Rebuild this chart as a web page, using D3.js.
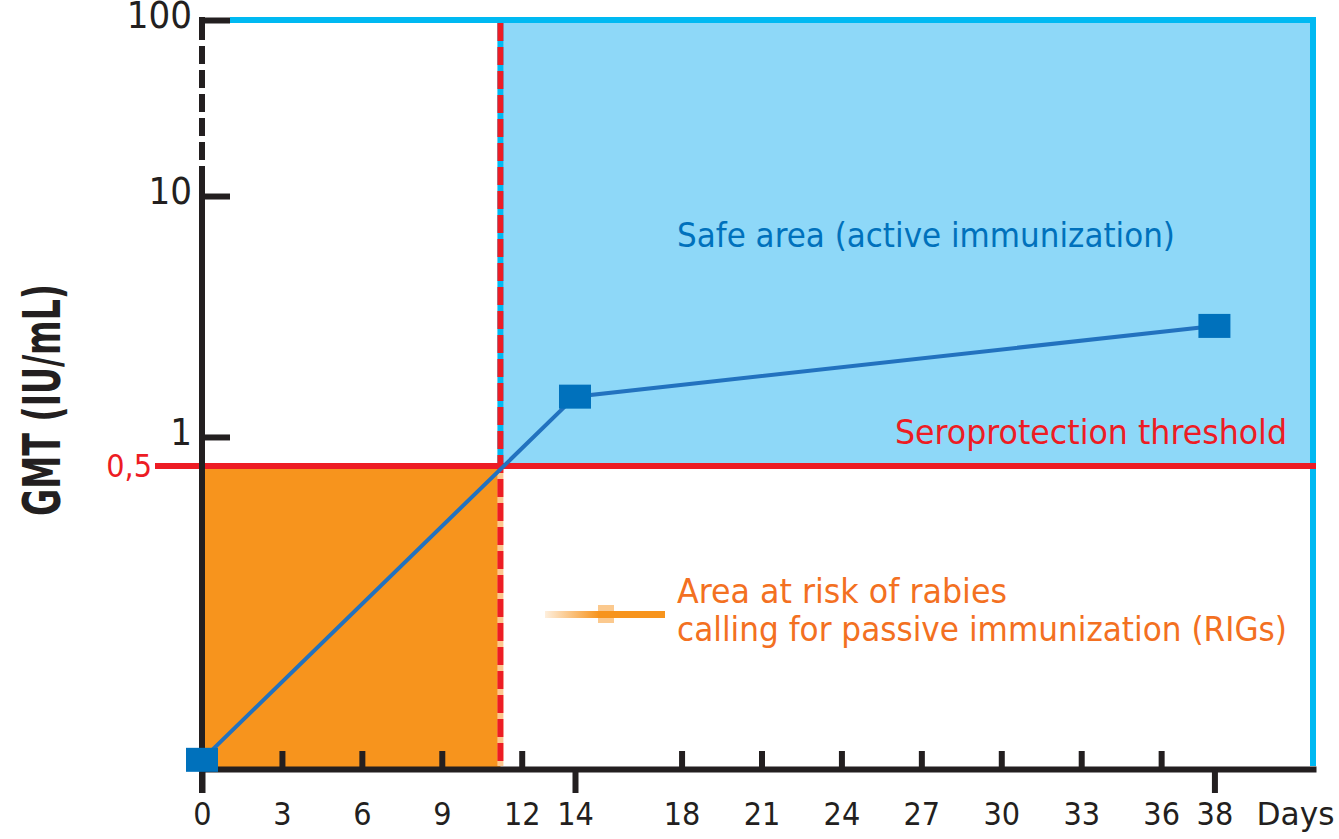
<!DOCTYPE html>
<html>
<head>
<meta charset="utf-8">
<script src="https://cdn.jsdelivr.net/npm/d3@7"></script>
<style>
  html, body { margin: 0; padding: 0; background: #fff; overflow: hidden; }
  svg { display: block; }
  text { font-family: "DejaVu Sans Condensed", "Liberation Sans Narrow", "Liberation Sans", sans-serif; }
</style>
</head>
<body>
<div id="myChart"></div>
<script>
// Data
const days = [0, 14, 38];
const gmt = [0.105, 1.47, 2.89];
const xTicks = [0, 3, 6, 9, 12, 14, 18, 21, 24, 27, 30, 33, 36, 38];
const xMajorTicks = [0, 14, 38];
const yTicks = [1, 10, 100];
const yBreaks = [0.1, 0.5, 1, 10, 100];
const threshold = 0.5;
const thresholdLabel = "0,5";
const thresholdDay = 11.2;
const lastDay = 41.7;
const xUnit = "Days";
const yTitle = "GMT (IU/mL)";
const safeText = "Safe area (active immunization)";
const seroText = "Seroprotection threshold";
const riskText = ["Area at risk of rabies", "calling for passive immunization (RIGs)"];

// Size of the SVG
const w = 1339;
const h = 839;

// Plot box
const margin = {top: 20, left: 202, bottom: 70, right: 26};
const innerWidth = w - margin.left - margin.right;
const innerHeight = h - margin.top - margin.bottom;

// Colours
const col = {
  axis: "#231f20", red: "#ed1c24", cyan: "#00b9f2", sky: "#8ed8f8",
  orange: "#f7941d", riskText: "#f37021", blue: "#0071bc", line: "#2272bf", peach: "#fcc890"
};

const svg = d3.select("#myChart")
  .append("svg")
    .attr("width", w)
    .attr("height", h)
    .attr("viewBox", [0, 0, w, h]);

// X scale (linear days)
const xScale = d3.scaleLinear()
  .domain([0, lastDay])
  .range([margin.left, margin.left + innerWidth]);

// Y scale: hand drawn log axis, so a piecewise log scale
// (share of the plot height for each break, bottom to top)
const yShares = [0, 0.4045, 0.4433, 0.765, 1];
const yScale = d3.scaleLog()
  .domain(yBreaks)
  .range(yShares.map(s => margin.top + innerHeight * (1 - s)));

const yMin = yBreaks[0];
const yMax = yBreaks[yBreaks.length - 1];

// Safe area (blue) and risk area (orange)
svg.append("rect")
  .attr("x", xScale(thresholdDay))
  .attr("y", yScale(yMax))
  .attr("width", xScale(lastDay) - xScale(thresholdDay))
  .attr("height", yScale(threshold) - yScale(yMax))
  .attr("fill", col.sky);

svg.append("rect")
  .attr("x", xScale(0))
  .attr("y", yScale(threshold))
  .attr("width", xScale(thresholdDay) - xScale(0))
  .attr("height", yScale(yMin) - yScale(threshold))
  .attr("fill", col.orange);

// Cyan frame top and right
svg.append("path")
  .attr("d", d3.line()([
    [xScale(0) + 28, yScale(yMax)],
    [xScale(lastDay), yScale(yMax)],
    [xScale(lastDay), yScale(yMin) - 3]
  ]))
  .attr("fill", "none")
  .attr("stroke", col.cyan)
  .attr("stroke-width", 6)
  .attr("stroke-linejoin", "miter");

// Vertical threshold line: coloured under-line then red dashes
svg.append("line")
  .attr("x1", xScale(thresholdDay)).attr("x2", xScale(thresholdDay))
  .attr("y1", yScale(yMax) - 3).attr("y2", yScale(threshold))
  .attr("stroke", col.cyan).attr("stroke-width", 6);
svg.append("line")
  .attr("x1", xScale(thresholdDay)).attr("x2", xScale(thresholdDay))
  .attr("y1", yScale(threshold)).attr("y2", yScale(yMin) - 3)
  .attr("stroke", col.peach).attr("stroke-width", 6);
svg.append("line")
  .attr("x1", xScale(thresholdDay)).attr("x2", xScale(thresholdDay))
  .attr("y1", yScale(yMax) - 3).attr("y2", yScale(yMin) - 3)
  .attr("stroke", col.red).attr("stroke-width", 6)
  .attr("stroke-dasharray", "18 6")
  .attr("stroke-dashoffset", -6);

// Horizontal threshold line
svg.append("line")
  .attr("x1", xScale(0) - 47).attr("x2", xScale(lastDay) + 3)
  .attr("y1", yScale(threshold)).attr("y2", yScale(threshold))
  .attr("stroke", col.red).attr("stroke-width", 6);

svg.append("text")
  .attr("x", xScale(0) - 50)
  .attr("y", yScale(threshold))
  .attr("dy", "0.35em")
  .attr("text-anchor", "end")
  .attr("fill", col.red)
  .style("font-size", "32px")
  .text(thresholdLabel);

// Y axis line: solid corner, dashed between 100 and 10, solid below
const yLine = [
  {y1: yScale(yMax) - 3, y2: yScale(yMax) + 20, dash: null},
  {y1: yScale(yMax) + 26, y2: yScale(10) - 19, dash: "18 6"},
  {y1: yScale(10) - 19, y2: yScale(yMin) + 24, dash: null}
];
svg.selectAll(".yline")
  .data(yLine)
  .enter()
  .append("line")
    .attr("class", "yline")
    .attr("x1", xScale(0)).attr("x2", xScale(0))
    .attr("y1", d => d.y1).attr("y2", d => d.y2)
    .attr("stroke", col.axis)
    .attr("stroke-width", 6)
    .attr("stroke-dasharray", d => d.dash);

// Y axis ticks and labels
const yAxis = d3.axisLeft(yScale)
  .tickValues(yTicks)
  .tickFormat(d3.format("d"))
  .tickSize(-28)
  .tickPadding(10);

const yG = svg.append("g")
  .attr("transform", `translate(${xScale(0)},0)`)
  .call(yAxis)
  .attr("font-family", null)
  .attr("font-size", 38);
yG.select(".domain").remove();
yG.selectAll(".tick line").attr("stroke", col.axis).attr("stroke-width", 6).attr("x1", 3);
yG.selectAll(".tick text")
  .attr("dy", "0.2em")
  .attr("fill", col.axis);

// X axis: domain + inner minor ticks
const minorTicks = xTicks.filter(d => !xMajorTicks.includes(d));
const xG = svg.append("g")
  .attr("transform", `translate(0,${yScale(yMin)})`)
  .call(d3.axisBottom(xScale).tickValues(minorTicks).tickSize(-18).tickSizeOuter(0).tickFormat(""));
xG.select(".domain").attr("stroke", col.axis).attr("stroke-width", 6).attr("stroke-linecap", "square");
xG.selectAll(".tick line").attr("stroke", col.axis).attr("stroke-width", 6);

// Major ticks go down
const xMajG = svg.append("g")
  .attr("transform", `translate(0,${yScale(yMin)})`)
  .call(d3.axisBottom(xScale).tickValues(xMajorTicks).tickSize(24).tickFormat(""));
xMajG.select(".domain").remove();
xMajG.selectAll(".tick line").attr("stroke", col.axis).attr("stroke-width", 6);

// Tick labels
const xLabG = svg.append("g")
  .attr("transform", `translate(0,${yScale(yMin)})`)
  .call(d3.axisBottom(xScale).tickValues(xTicks).tickSize(0).tickPadding(33))
  .attr("font-family", null)
  .attr("font-size", 32);
xLabG.select(".domain").remove();
xLabG.selectAll(".tick text")
  .attr("fill", col.axis);

svg.append("text")
  .attr("x", xScale(38) + 42)
  .attr("y", yScale(yMin) + 33)
  .attr("dy", "0.71em")
  .attr("fill", col.axis)
  .attr("textLength", 78)
  .attr("lengthAdjust", "spacingAndGlyphs")
  .style("font-size", "32px")
  .text(xUnit);

// Y axis title
svg.append("text")
  .attr("transform", `translate(60,${yScale(1) - 37}) rotate(-90)`)
  .attr("text-anchor", "middle")
  .attr("fill", col.axis)
  .attr("textLength", 232)
  .attr("lengthAdjust", "spacingAndGlyphs")
  .style("font-size", "52px")
  .style("font-weight", "bold")
  .text(yTitle);

// Area labels
svg.append("text")
  .attr("x", 677).attr("y", 247)
  .attr("fill", col.blue)
  .attr("textLength", 498)
  .attr("lengthAdjust", "spacingAndGlyphs")
  .style("font-size", "34px")
  .text(safeText);

svg.append("text")
  .attr("x", 895).attr("y", yScale(threshold) - 22)
  .attr("fill", col.red)
  .attr("textLength", 392)
  .attr("lengthAdjust", "spacingAndGlyphs")
  .style("font-size", "34px")
  .text(seroText);

svg.selectAll(".risk")
  .data(riskText)
  .enter()
  .append("text")
    .attr("class", "risk")
    .attr("x", 677)
    .attr("y", (d, i) => 603 + i * 38)
    .attr("fill", col.riskText)
    .attr("textLength", (d, i) => i === 0 ? 330 : 610)
    .attr("lengthAdjust", "spacingAndGlyphs")
    .style("font-size", "34px")
    .text(d => d);

// Arrow pointing to the risk area
const grad = svg.append("defs").append("linearGradient")
  .attr("id", "arrowGrad");
grad.append("stop").attr("offset", "0%").attr("stop-color", col.orange).attr("stop-opacity", 0.15);
grad.append("stop").attr("offset", "45%").attr("stop-color", col.orange).attr("stop-opacity", 1);
svg.append("rect")
  .attr("x", 545).attr("y", 611)
  .attr("width", 120).attr("height", 7)
  .attr("fill", "url(#arrowGrad)");
svg.append("rect")
  .attr("x", 598).attr("y", 605)
  .attr("width", 16).attr("height", 18)
  .attr("fill", col.orange)
  .attr("opacity", 0.5);

// GMT line and points
const line = d3.line()
  .x(d => xScale(d.day))
  .y(d => yScale(d.gmt));
const points = days.map((d, i) => ({day: d, gmt: gmt[i]}));

svg.append("path")
  .datum(points)
  .attr("d", line)
  .attr("fill", "none")
  .attr("stroke", col.line)
  .attr("stroke-width", 4);

svg.selectAll(".pt")
  .data(points)
  .enter()
  .append("rect")
    .attr("class", "pt")
    .attr("x", d => xScale(d.day) - 16)
    .attr("y", d => yScale(d.gmt) - 12)
    .attr("width", 32)
    .attr("height", 24)
    .attr("fill", col.blue);
</script>
</body>
</html>
